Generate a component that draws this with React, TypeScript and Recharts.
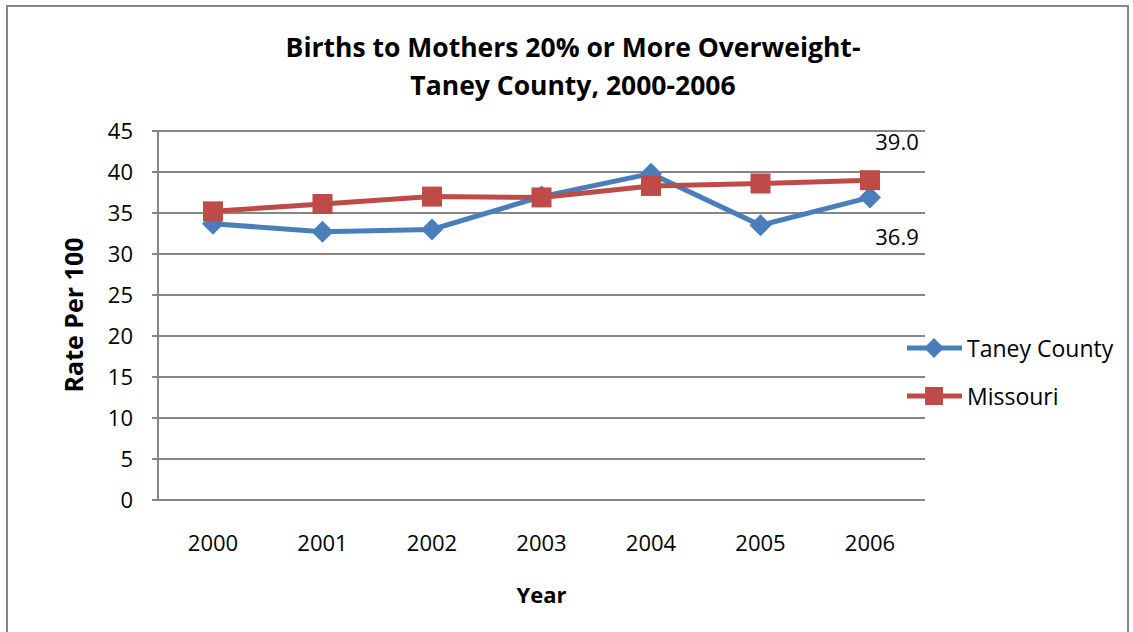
import React from "react";
import {
  CartesianGrid,
  LabelList,
  Legend,
  Line,
  LineChart,
  XAxis,
  YAxis,
} from "recharts";

const years = ["2000", "2001", "2002", "2003", "2004", "2005", "2006"];
const taneyCounty = [33.7, 32.7, 33.0, 37.0, 39.8, 33.5, 36.9];
const missouri = [35.2, 36.1, 37.0, 36.9, 38.3, 38.6, 39.0];
const yTicks = [0, 5, 10, 15, 20, 25, 30, 35, 40, 45];

const BLUE = "#4A7EBB";
const RED = "#BE4B48";
const GRID = "#868686";
const FONT = "'Open Sans', sans-serif";

const data = years.map((year, i) => ({
  year,
  taney: taneyCounty[i],
  missouri: missouri[i],
}));

const DiamondDot = (props: any) => {
  const { cx, cy } = props;
  if (cx == null || cy == null) return null;
  return (
    <path
      d={`M${cx},${cy - 11} L${cx + 11},${cy} L${cx},${cy + 11} L${cx - 11},${cy} Z`}
      fill={BLUE}
    />
  );
};

const SquareDot = (props: any) => {
  const { cx, cy } = props;
  if (cx == null || cy == null) return null;
  return <rect x={cx - 10} y={cy - 10} width={20} height={20} fill={RED} />;
};

// only the last point of each series carries a value label
const lastLabel = (dy: number) => (props: any) => {
  const { x, y, value, index } = props;
  if (index !== years.length - 1) return null;
  return (
    <text
      x={x + 27}
      y={y + dy}
      textAnchor="middle"
      dominantBaseline="central"
      fontFamily={FONT}
      fontSize={22}
      fill="#000"
    >
      {Number(value).toFixed(1)}
    </text>
  );
};

const LegendContent = () => (
  <svg width={226} height={90}>
    <line x1={2} y1={18} x2={57} y2={18} stroke={BLUE} strokeWidth={5} />
    <path d="M29,8 L39,18 L29,28 L19,18 Z" fill={BLUE} />
    <text x={62} y={18} dominantBaseline="central" fontFamily={FONT} fontSize={23}>
      Taney County
    </text>
    <line x1={2} y1={66} x2={57} y2={66} stroke={RED} strokeWidth={5} />
    <rect x={20} y={57} width={18} height={18} fill={RED} />
    <text x={62} y={66} dominantBaseline="central" fontFamily={FONT} fontSize={23}>
      Missouri
    </text>
  </svg>
);

const App: React.FC = () => {
  return (
    <div
      style={{
        position: "absolute",
        left: 0,
        top: 0,
        width: 1133,
        height: 632,
        overflow: "hidden",
        background: "#fff",
      }}
    >
      {/* chart frame, bottom edge runs off the page */}
      <div
        style={{
          position: "absolute",
          left: 6,
          top: 5,
          width: 1119,
          height: 700,
          border: `2px solid ${GRID}`,
        }}
      />
      <div
        style={{
          position: "absolute",
          left: 0,
          top: 28,
          width: 1146,
          textAlign: "center",
          fontFamily: FONT,
          fontWeight: 700,
          fontSize: 26.5,
          lineHeight: "38px",
          color: "#000",
        }}
      >
        Births to Mothers 20% or More Overweight-
        <br />
        Taney County, 2000-2006
      </div>
      <div style={{ position: "absolute", left: 0, top: 0 }}>
        <LineChart
          width={1133}
          height={632}
          data={data}
          margin={{ top: 131, right: 208, bottom: 0, left: 0 }}
        >
          <CartesianGrid
            horizontal
            vertical={false}
            stroke={GRID}
            strokeWidth={2}
          />
          <XAxis
            dataKey="year"
            height={132}
            padding={{ left: 55, right: 55 }}
            tickLine={false}
            tickSize={0}
            tickMargin={35}
            axisLine={{ stroke: GRID, strokeWidth: 2 }}
            tick={{ fill: "#000", fontFamily: FONT, fontSize: 22 }}
            label={{
              value: "Year",
              position: "insideBottom",
              offset: 29,
              fill: "#000",
              fontFamily: FONT,
              fontSize: 22,
              fontWeight: 700,
            }}
          />
          <YAxis
            width={158}
            domain={[0, 45]}
            ticks={yTicks}
            interval={0}
            tickSize={6}
            tickMargin={19}
            axisLine={{ stroke: GRID, strokeWidth: 2 }}
            tickLine={{ stroke: GRID, strokeWidth: 2 }}
            tick={{ fill: "#000", fontFamily: FONT, fontSize: 22 }}
            label={{
              content: () => (
                <text
                  x={73}
                  y={315}
                  transform="rotate(-90 73 315)"
                  textAnchor="middle"
                  dominantBaseline="central"
                  fontFamily={FONT}
                  fontSize={25}
                  fontWeight={700}
                  fill="#000"
                >
                  Rate Per 100
                </text>
              ),
            }}
          />
          <Legend
            layout="vertical"
            align="center"
            verticalAlign="middle"
            content={<LegendContent />}
            wrapperStyle={{ position: "absolute", left: 905, top: 330, width: 226 }}
          />
          <Line
            type="linear"
            dataKey="taney"
            name="Taney County"
            stroke={BLUE}
            strokeWidth={5}
            dot={<DiamondDot />}
            activeDot={false}
            isAnimationActive={false}
          >
            <LabelList dataKey="taney" content={lastLabel(39)} />
          </Line>
          <Line
            type="linear"
            dataKey="missouri"
            name="Missouri"
            stroke={RED}
            strokeWidth={5}
            dot={<SquareDot />}
            activeDot={false}
            isAnimationActive={false}
          >
            <LabelList dataKey="missouri" content={lastLabel(-39)} />
          </Line>
        </LineChart>
      </div>
    </div>
  );
};

export default App;
